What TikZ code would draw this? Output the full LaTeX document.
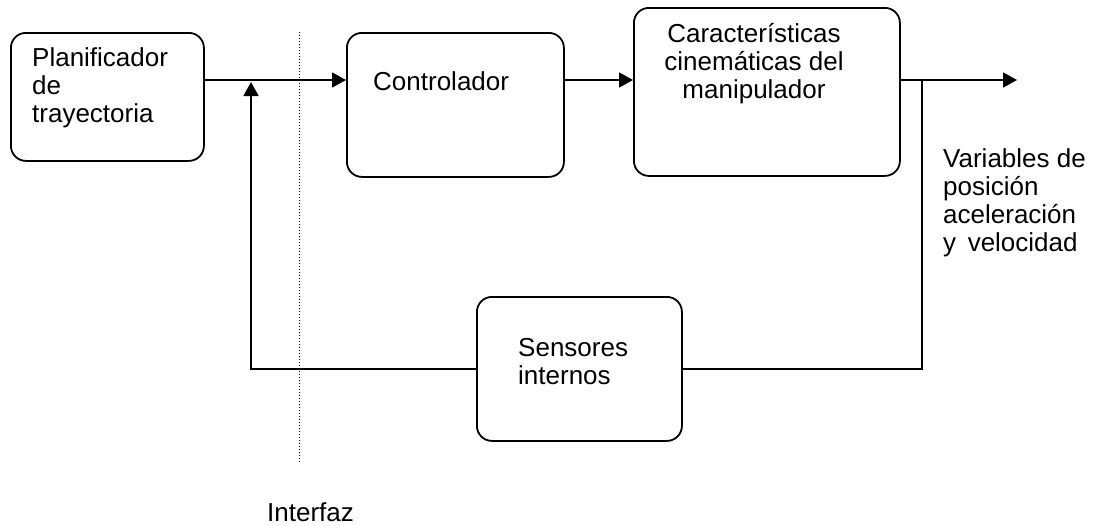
\documentclass[tikz,border=0pt]{standalone}
\usepackage{fontspec}
\setmainfont{Liberation Sans}
\usetikzlibrary{calc,arrows.meta,positioning}
\tikzset{
	bloque/.style={draw,line width=1.8pt,rounded corners=15pt,anchor=north west},
	etiq/.style={inner sep=0pt,font=\fontsize{26}{28}\selectfont},
	flecha/.style={line width=1.8pt,-{Triangle[length=14pt,width=15pt]}},
	linea/.style={line width=1.8pt}
}

\begin{document}
\begin{tikzpicture}[x=1pt,y=-1pt]
		\useasboundingbox (0,0) rectangle (1094,525);
		% bloques
		\node[bloque,minimum width=193pt,minimum height=128pt] (plan) at (10,32) {};
		\node[bloque,minimum width=217pt,minimum height=144pt] (ctrl) at (346,32) {};
		\node[bloque,minimum width=266pt,minimum height=168pt] (carac) at (633,7) {};
		\node[bloque,minimum width=205pt,minimum height=144pt] (sens) at (476,296) {};
		% textos (base = ultima linea)
		\node[etiq,anchor=base west,align=left] (tplan) at (32,122) {Planificador\\de\\trayectoria};
		\node[etiq,anchor=base west] (tctrl) at (373,90) {Controlador};
		\node[etiq,anchor=base,align=center] (tcarac) at (754,98) {Características\\cinemáticas del\\manipulador};
		\node[etiq,anchor=base west,align=left] (tsens) at (518,384) {Sensores\\internos};
		\node[etiq,anchor=base west,align=left] (tvar) at (943,251) {Variables de\\posición\\aceleración\\y\, velocidad};
		\node[etiq,anchor=base west] (tint) at (267,521) {Interfaz};
		% puntos de paso
		\coordinate (suma) at (251,80);
		\coordinate (ramal) at (922,80);
		\coordinate (salida) at (1017,80);
		\coordinate (interfazA) at (299,32);
		\coordinate (interfazB) at (299,462);
		% interfaz
		\draw[dotted,line width=1pt] (interfazA) -- (interfazB);
		% lazo directo
		\draw[flecha] (plan.east |- suma) -- (suma -| ctrl.west);
		\draw[flecha] (ctrl.east |- suma) -- (suma -| carac.west);
		\draw[flecha] (carac.east |- salida) -- (salida);
		% realimentacion
		\draw[linea] (ramal) |- (sens.east);
		\draw[flecha] (sens.west) -| ($(suma)+(0,2)$);
	\end{tikzpicture}
\end{document}
